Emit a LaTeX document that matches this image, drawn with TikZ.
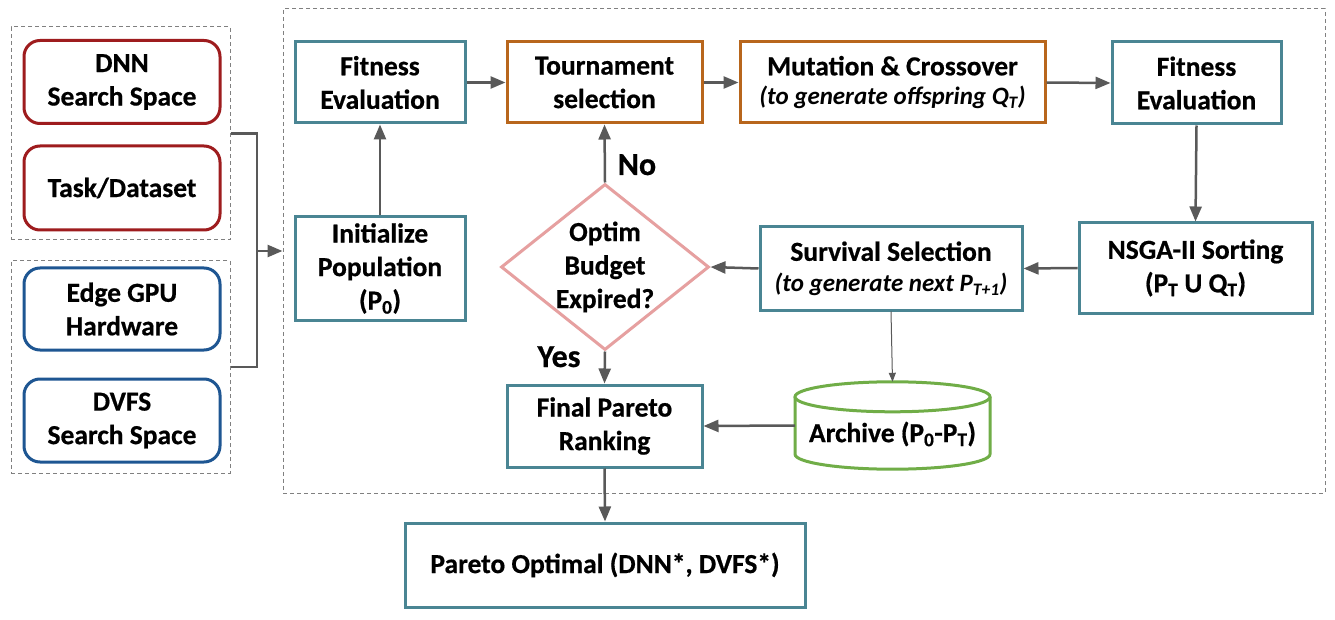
\documentclass[tikz,border=0pt]{standalone}
\usepackage{fontspec}
\setmainfont{Carlito}[BoldFeatures={FakeBold=0.6}]
\usetikzlibrary{shapes.geometric,arrows.meta}
\definecolor{cteal}{RGB}{74,133,147}
\definecolor{corange}{RGB}{184,102,28}
\definecolor{cred}{RGB}{158,28,30}
\definecolor{cblue}{RGB}{30,86,146}
\definecolor{cpink}{RGB}{230,160,160}
\definecolor{cgreen}{RGB}{112,173,71}
\definecolor{cgray}{RGB}{89,89,89}
\definecolor{cdash}{RGB}{128,128,128}
\newcommand{\subtxt}{\fontsize{25}{30}\selectfont\bfseries\itshape}
\begin{document}
\begin{tikzpicture}[x=1pt,y=-1pt,
  txt/.style={font=\fontsize{27.5}{33.5}\selectfont\bfseries, align=center, text=black},
  sbox/.style={txt, draw=#1, line width=3pt, fill=white, inner sep=0pt},
  rbox/.style={sbox=#1, rounded corners=16pt, minimum width=196pt},
  grp/.style={draw=cdash, line width=1pt, dash pattern=on 4pt off 3pt},
  arr/.style={draw=cgray, line width=2.5pt, -{Triangle[length=15pt,width=12pt]}},
  thinarr/.style={draw=cgray, line width=1pt, -{Triangle[length=9pt,width=7pt]}},
  conn/.style={draw=cgray, line width=2.5pt},
  lbl/.style={font=\fontsize{32}{36}\selectfont\bfseries, anchor=base, inner sep=0pt}]
\useasboundingbox (0,0) rectangle (1335,620);
\fill[white] (0,0) rectangle (1335,620);

% group boxes
\node[grp, minimum width=219pt, minimum height=213pt] (g1) at (120.5,133.5) {};
\node[grp, minimum width=219pt, minimum height=212pt] (g2) at (120.5,367) {};
\node[grp, minimum width=1042pt, minimum height=484pt] (big) at (804,251) {};

% inputs
\node[rbox=cred, minimum height=83pt] (dnn) at (122,82) {DNN\\Search Space};
\node[rbox=cred, minimum height=84pt] (task) at (122,188) {Task/Dataset};
\node[rbox=cblue, minimum height=82pt] (edge) at (122,309) {Edge GPU\\Hardware};
\node[rbox=cblue, minimum height=83pt] (dvfs) at (122,420.5) {DVFS\\Search Space};

% main flow
\node[sbox=cteal, minimum width=170pt, minimum height=81pt] (fit1) at (380,82.5) {Fitness\\Evaluation};
\node[sbox=corange, minimum width=195pt, minimum height=81pt] (tour) at (604.5,82.5) {Tournament\\selection};
\node[sbox=corange, minimum width=305pt, minimum height=81pt] (mut) at (892.5,82.5)
  {Mutation \& Crossover\\[-4pt]{\subtxt (to generate offspring Q\textsubscript{T})}};
\node[sbox=cteal, minimum width=169pt, minimum height=82pt] (fit2) at (1196.5,83) {Fitness\\Evaluation};
\node[sbox=cteal, minimum width=233pt, minimum height=90pt] (nsga) at (1195.5,268) {NSGA-II Sorting\\(P\textsubscript{T} U Q\textsubscript{T})};
\node[sbox=cteal, minimum width=262pt, minimum height=83pt] (surv) at (891,268.5)
  {Survival Selection\\[-3pt]{\subtxt (to generate next P\textsubscript{T+1})}};
\node[diamond, draw=cpink, line width=3pt, fill=white, minimum width=208pt, minimum height=166pt, inner sep=0pt] (dec) at (605,267) {};
\node[txt, inner sep=0pt] at (dec.center) {Optim\\Budget\\Expired?};
\node[sbox=cteal, minimum width=170pt, minimum height=103pt] (init) at (380,268.5) {Initialize\\Population\\(P\textsubscript{0})};
\node[sbox=cteal, minimum width=195pt, minimum height=82pt] (final) at (604.5,426) {Final Pareto\\Ranking};
\node[sbox=cteal, minimum width=400pt, minimum height=84pt] (opt) at (605,565) {Pareto Optimal (DNN*, DVFS*)};

% archive cylinder
\node[minimum width=195pt, minimum height=87pt, inner sep=0pt] (arch) at (892.5,425.5) {};
\path (arch.north) ++(0,15) coordinate (tc);
\path (arch.south) ++(0,-15) coordinate (bc);
\fill[white] ([xshift=-97.5pt]tc) -- ([xshift=-97.5pt]bc) arc[start angle=180, end angle=360, x radius=97.5pt, y radius=15pt] -- ([xshift=97.5pt]tc) -- cycle;
\draw[cgreen, line width=3pt] ([xshift=-97.5pt]tc) -- ([xshift=-97.5pt]bc) arc[start angle=180, end angle=360, x radius=97.5pt, y radius=15pt] -- ([xshift=97.5pt]tc);
\draw[cgreen, line width=3pt, fill=white] (tc) ellipse [x radius=97.5pt, y radius=15pt];
\node[txt, inner sep=0pt] at (892.5,434) {Archive (P\textsubscript{0}-P\textsubscript{T})};

% labels
\node[lbl] (no) at (637,175) {No};
\node[lbl] (yes) at (559,367) {Yes};

% connectors
\coordinate (j) at (257,251);
\draw[conn] (g1.east) -- (g1.east -| j) -- (g2.east -| j) -- (g2.east);
\draw[arr] (j) -- (big.west);
\draw[arr] (init.north) -- (fit1.south);
\draw[arr] (fit1.east) -- (tour.west);
\draw[arr] (tour.east) -- (mut.west);
\draw[arr] (mut.east) -- (fit2.west);
\draw[arr] (fit2.south) -- (nsga.north);
\draw[arr] (nsga.west) -- (surv.east);
\draw[arr] (surv.west) -- (dec.east);
\draw[arr] (dec.north) -- (tour.south);
\draw[arr] (dec.south) -- (final.north);
\draw[arr] (arch.west) -- (final.east);
\draw[thinarr] (surv.south) -- (arch.north);
\draw[arr] (final.south) -- (opt.north);
\end{tikzpicture}
\end{document}
